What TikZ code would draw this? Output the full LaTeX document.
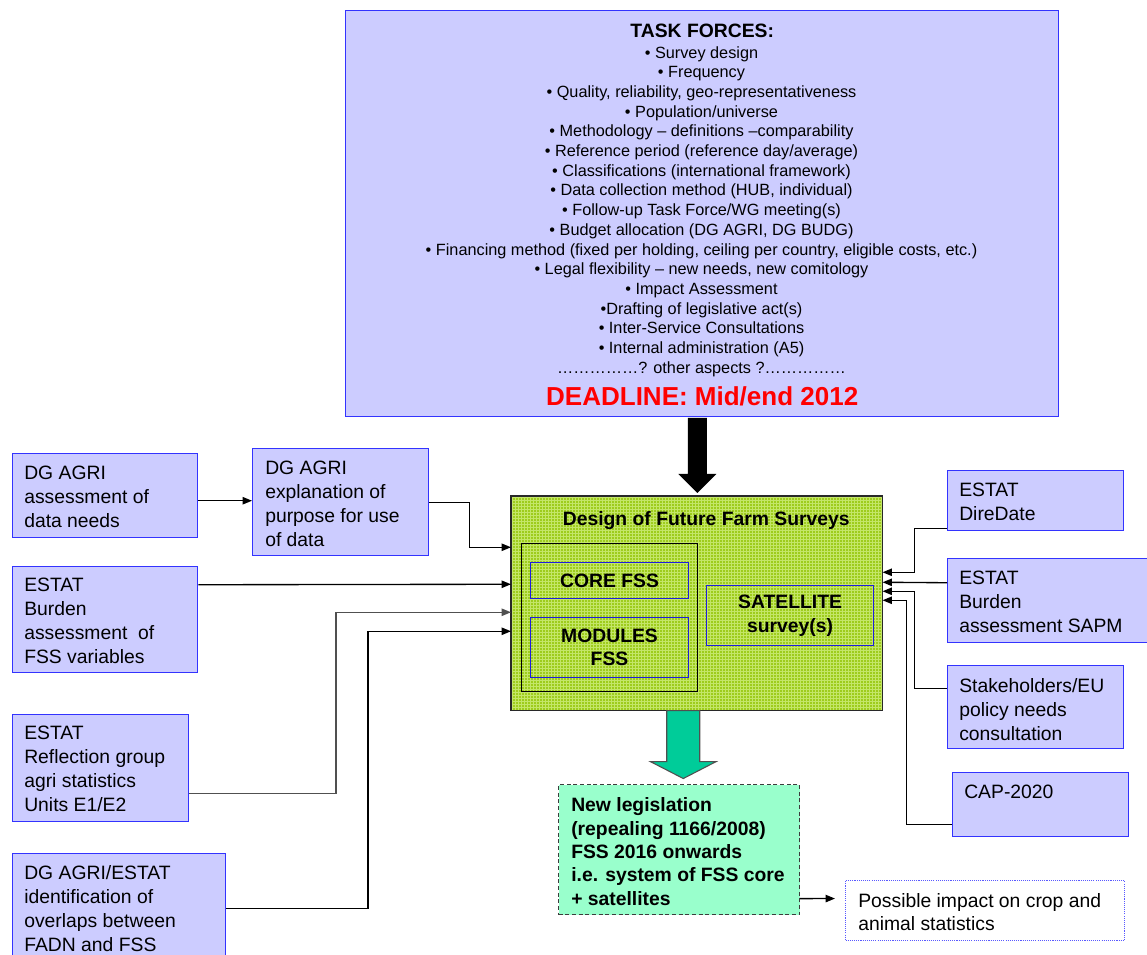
\documentclass[tikz,border=0pt]{standalone}
\usepackage{fontspec}
\setmainfont{Liberation Sans}
\usetikzlibrary{arrows.meta,calc}
\definecolor{boxblue}{RGB}{204,204,255}
\definecolor{boxline}{RGB}{51,51,255}
\definecolor{grnbase}{RGB}{158,204,28}
\definecolor{grnline}{RGB}{196,230,104}
\definecolor{arrowteal}{RGB}{0,204,153}
\definecolor{legisfill}{RGB}{153,255,204}
\definecolor{innerblue}{RGB}{30,30,220}
\definecolor{dotblue}{RGB}{90,90,255}
\definecolor{deadred}{RGB}{255,0,0}
\definecolor{lgray}{RGB}{80,80,80}
\begin{document}
\begin{tikzpicture}[x=0.75pt,y=-0.75pt,
  box/.style={draw=boxline, line width=1.1pt, fill=boxblue, inner sep=0pt, anchor=north west},
  txt/.style={inner sep=0pt, anchor=west, align=left, font=\fontsize{14.5}{18}\selectfont},
  btxt/.style={inner sep=0pt, align=center, font=\bfseries\fontsize{14.5}{18}\selectfont},
  inbox/.style={draw=innerblue, line width=0.8pt, inner sep=0pt, anchor=north west, align=center, font=\bfseries\fontsize{14.5}{17.6}\selectfont},
  arr/.style={line width=1pt, -{Triangle[length=7pt,width=5.5pt]}}]
\useasboundingbox (0,0) rectangle (1147,955);

% ---------- top box ----------
\node[box, minimum width={713*0.75pt}, minimum height={406*0.75pt}] (TF) at (345,10) {};
\node[btxt] (TFt) at ($(TF.north)+(0,21)$) {TASK FORCES:};
\node[inner sep=0pt, align=center, font=\fontsize{12.2}{14.78}\selectfont] (TFl) at (701.5,211.5) {%
• Survey design\\
• Frequency\\
• Quality, reliability, geo-representativeness\\
• Population/universe\\
• Methodology – definitions –comparability\\
• Reference period (reference day/average)\\
• Classifications (international framework)\\
• Data collection method (HUB, individual)\\
• Follow-up Task Force/WG meeting(s)\\
• Budget allocation (DG AGRI, DG BUDG)\\
• Financing method (fixed per holding, ceiling per country, eligible costs, etc.)\\
• Legal flexibility – new needs, new comitology\\
• Impact Assessment\\
•Drafting of legislative act(s)\\
• Inter-Service Consultations\\
• Internal administration (A5)\\
……………? other aspects ?……………};
\node[inner sep=0pt, text=deadred, font=\bfseries\fontsize{19.5}{22}\selectfont] (TFd) at ($(TF.north)+(0,386)$) {DEADLINE: Mid/end 2012};

% ---------- green central box ----------
\node[fill=grnbase, inner sep=0pt, anchor=north west, minimum width={371*0.75pt}, minimum height={214*0.75pt}] (G0) at (511,496) {};
\begin{scope}
  \clip (G0.north west) rectangle (G0.south east);
  \foreach \i in {1.5,4.5,...,372} {
    \draw[grnline, line width=0.5pt] ($(G0.north west)+(\i,0)$) -- ($(G0.south west)+(\i,0)$);
  }
  \foreach \j in {1.5,4.5,...,215} {
    \draw[grnline, line width=0.5pt] ($(G0.north west)+(0,\j)$) -- ($(G0.north east)+(0,\j)$);
  }
\end{scope}
\draw[draw={rgb,255:red,40;green,40;blue,40}, line width=1.2pt] (G0.north west) rectangle (G0.south east);
\node[btxt] (G0t) at ($(G0.north)+(9.5,25)$) {Design of Future Farm Surveys};
\node[draw=black, line width=0.8pt, inner sep=0pt, anchor=north west, minimum width={176*0.75pt}, minimum height={148*0.75pt}] (IN) at (521,543) {};
\node[inbox, minimum width={158*0.75pt}, minimum height={36*0.75pt}] (CORE) at (530,562) {CORE FSS};
\node[inbox, minimum width={158*0.75pt}, minimum height={60*0.75pt}] (MOD) at (530,617) {MODULES\\FSS};
\node[inbox, minimum width={167*0.75pt}, minimum height={60*0.75pt}] (SAT) at (706,585) {SATELLITE\\survey(s)};

% ---------- black arrow ----------
\fill[black] ($(G0.north)+(-9,-78)$) -- ($(G0.north)+(10,-78)$) -- ($(G0.north)+(10,-22)$)
  -- ($(G0.north)+(19.5,-22)$) -- ($(G0.north)+(0.5,-3)$) -- ($(G0.north)+(-18.5,-22)$)
  -- ($(G0.north)+(-9,-22)$) -- cycle;

% ---------- left boxes ----------
\node[box, minimum width={185*0.75pt}, minimum height={84*0.75pt}] (A) at (12,453) {};
\node[txt] (At) at ($(A.west)+(12,1)$) {DG AGRI\\assessment of\\data needs};
\node[box, minimum width={176*0.75pt}, minimum height={107*0.75pt}] (B) at (252,448) {};
\node[txt] (Bt) at ($(B.west)+(13,1.5)$) {DG AGRI\\explanation of\\purpose for use\\of data};
\node[box, minimum width={185*0.75pt}, minimum height={106*0.75pt}] (C) at (12,566) {};
\node[txt] (Ct) at ($(C.west)+(12,1)$) {ESTAT\\Burden\\assessment\ \ of\\FSS variables};
\node[box, minimum width={176*0.75pt}, minimum height={107*0.75pt}] (D) at (12,714) {};
\node[txt] (Dt) at ($(D.west)+(12,1)$) {ESTAT\\Reflection group\\agri statistics\\Units E1/E2};
\node[box, minimum width={213*0.75pt}, minimum height={109*0.75pt}] (E) at (12,853) {};
\node[txt] (Et) at ($(E.west)+(12,0.5)$) {DG AGRI/ESTAT\\identification of\\overlaps between\\FADN and FSS};

% ---------- right boxes ----------
\node[box, minimum width={176*0.75pt}, minimum height={60*0.75pt}] (F) at (947,470) {};
\node[txt] (Ft) at ($(F.west)+(12,1)$) {ESTAT\\DireDate};
\node[box, minimum width={206*0.75pt}, minimum height={84*0.75pt}] (G) at (947,558) {};
\node[txt] (Gt) at ($(G.west)+(12,1)$) {ESTAT\\Burden\\assessment SAPM};
\node[box, minimum width={176*0.75pt}, minimum height={83*0.75pt}] (H) at (947,665) {};
\node[txt] (Ht) at ($(H.west)+(12,2)$) {Stakeholders/EU\\policy needs\\consultation};
\node[box, minimum width={176*0.75pt}, minimum height={64*0.75pt}] (I) at (952,772) {};
\node[txt] (It) at ($(I.west)+(12,-13)$) {CAP-2020};

% ---------- bottom ----------
\fill[arrowteal, draw=lgray, line width=0.8pt] ($(G0.south)+(-30,0)$) -- ($(G0.south)+(3,0)$) -- ($(G0.south)+(3,51)$)
  -- ($(G0.south)+(19.5,51)$) -- ($(G0.south)+(-13.5,68)$) -- ($(G0.south)+(-46.5,51)$)
  -- ($(G0.south)+(-30,51)$) -- cycle;
\node[draw={rgb,255:red,60;green,60;blue,60}, dash pattern=on 3pt off 2pt, line width=0.9pt, fill=legisfill, inner sep=0pt, anchor=north west, minimum width={241*0.75pt}, minimum height={130*0.75pt}] (L) at (558,784) {};
\node[txt, font=\bfseries\fontsize{14.5}{17.6}\selectfont] (Lt) at ($(L.west)+(13,2)$) {New legislation\\(repealing 1166/2008)\\FSS 2016 onwards\\i.e. system of FSS core\\+ satellites};
\node[draw=dotblue, dash pattern=on 0.8pt off 0.8pt, line width=0.8pt, fill=white, inner sep=0pt, anchor=north west, minimum width={279*0.75pt}, minimum height={60*0.75pt}] (P) at (845,880) {};
\node[txt, font=\fontsize{14.5}{17.3}\selectfont] (Pt) at ($(P.west)+(13,1.5)$) {Possible impact on crop and\\animal statistics};

% ---------- connectors ----------
\draw[arr] ($(A.east)+(0,5)$) -- ($(B.west)+(0,-1.5)$);
\draw[arr] ($(B.east)+(0,0.5)$) -- ++(40,0) |- ($(G0.west)+(0,-56)$);
\draw[arr] ($(C.east)+(0,-35)$) -- ($(G0.west)+(0,-19)$);
\draw[arr, draw=lgray] ($(D.east)+(0,25.5)$) -| ($(G0.west)+(-175,9)$) -- ($(G0.west)+(0,9)$);
\draw[arr] (E.east) -| ($(G0.west)+(-143,28)$) -- ($(G0.west)+(0,28)$);
\draw[arr] ($(F.west)+(0,28)$) -| ($(G0.east)+(32,-31)$) -- ($(G0.east)+(0,-31)$);
\draw[arr] ($(G.west)+(0,-18)$) -- ($(G0.east)+(0,-21)$);
\draw[arr] ($(H.west)+(0,-18.5)$) -| ($(G0.east)+(32,-12)$) -- ($(G0.east)+(0,-12)$);
\draw[arr] ($(I.west)+(0,20)$) -| ($(G0.east)+(24,-3)$) -- ($(G0.east)+(0,-3)$);
\draw[arr, shorten >=7.5pt] ($(L.east)+(0,49)$) -- ($(P.west)+(0,-12)$);
\end{tikzpicture}
\end{document}
